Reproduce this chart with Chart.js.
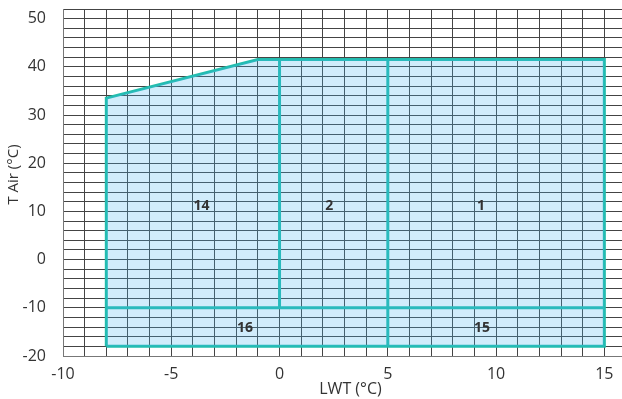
<!DOCTYPE html>
<html>
<head>
<meta charset="utf-8">
<script src="https://cdn.jsdelivr.net/npm/chart.js@4/dist/chart.umd.min.js"></script>
<style>
  html, body { margin: 0; padding: 0; background: #fff; overflow: hidden; }
  #wrap { width: 626px; height: 399px; }
</style>
</head>
<body>
<div id="wrap"><canvas id="chart" width="626" height="399"></canvas></div>
<script>
// operating envelope, LWT (x) against T Air (y)
const envelopeX = [-8, -8, -1, 15, 15, -8];
const envelopeY = [-18, 33.5, 41.5, 41.5, -18, -18];
const topX = [-8, -1, 15];
const topY = [33.5, 41.5, 41.5];
const bottomLimit = -18;

// dividing lines between zones
const dividers = [
  { x: [0, 0], y: [-10, 41.5] },
  { x: [5, 5], y: [-18, 41.5] },
  { x: [-8, 15], y: [-10, -10] },
];

// zone numbers
const zoneLabels = ['14', '2', '1', '16', '15'];
const zoneX = [-3.6, 2.3, 9.3, -1.6, 9.35];
const zoneY = [11.2, 11.2, 11.2, -14.2, -14.2];

const xTickLabels = [-10, -5, 0, 5, 10, 15];
const yTickLabels = [-20, -10, 0, 10, 20, 30, 40, 50];
const xTitle = 'LWT (°C)';
const yTitle = 'T Air (°C)';

const teal = '#22bdad';
const toPoints = (xs, ys) => xs.map((x, i) => ({ x, y: ys[i] }));

// zone numbers and axis titles (titles sit a bit off-centre in the original)
const textPlugin = {
  id: 'texts',
  afterDatasetsDraw(chart) {
    const { ctx, scales, chartArea } = chart;
    ctx.save();
    ctx.font = 'bold 14px "Open Sans"';
    ctx.fillStyle = '#333';
    ctx.textAlign = 'center';
    ctx.textBaseline = 'middle';
    zoneLabels.forEach((t, i) => {
      ctx.fillText(t, scales.x.getPixelForValue(zoneX[i]), scales.y.getPixelForValue(zoneY[i]));
    });

    ctx.font = '16px "Open Sans"';
    ctx.fillText(xTitle, (chartArea.left + chartArea.right) / 2 + 6, 389);
    ctx.font = '15px "Open Sans"';
    ctx.translate(14, (chartArea.top + chartArea.bottom) / 2 - 8);
    ctx.rotate(-Math.PI / 2);
    ctx.fillText(yTitle, 0, 0);
    ctx.restore();
  },
};

const lineStyle = {
  showLine: true,
  borderColor: teal,
  borderWidth: 3,
  pointRadius: 0,
  fill: false,
  tension: 0,
};

new Chart(document.getElementById('chart'), {
  type: 'scatter',
  data: {
    datasets: [
      {
        data: toPoints(topX, topY),
        showLine: true,
        borderWidth: 0,
        borderColor: 'rgba(0,0,0,0)',
        pointRadius: 0,
        backgroundColor: 'rgba(67,179,239,0.25)',
        fill: { target: { value: bottomLimit } },
      },
      { ...lineStyle, data: toPoints(envelopeX, envelopeY) },
      ...dividers.map(d => ({ ...lineStyle, data: toPoints(d.x, d.y) })),
    ],
  },
  options: {
    responsive: false,
    animation: false,
    layout: { padding: { top: 9, right: 0, left: 0, bottom: 0 } },
    plugins: { legend: { display: false }, tooltip: { enabled: false } },
    scales: {
      x: {
        type: 'linear',
        min: -10,
        max: 16,
        afterFit: s => { s.height = 43; s.paddingLeft = 0; s.paddingRight = 0; },
        ticks: {
          stepSize: 1,
          padding: 9,
          color: '#333',
          font: { family: 'Open Sans', size: 16 },
          maxRotation: 0,
          autoSkip: false,
          callback: v => (xTickLabels.includes(v) ? String(v) : ''),
        },
        grid: { color: '#444', lineWidth: 1, drawTicks: false },
        border: { color: '#777', width: 1 },
      },
      y: {
        type: 'linear',
        min: -20,
        max: 52,
        afterFit: s => { s.width = 63; s.paddingTop = 0; s.paddingBottom = 0; },
        ticks: {
          stepSize: 2,
          padding: 17,
          color: '#333',
          font: { family: 'Open Sans', size: 16 },
          autoSkip: false,
          callback: v => (yTickLabels.includes(v) ? String(v) : ''),
        },
        grid: { color: '#444', lineWidth: 1, drawTicks: false },
        border: { color: '#777', width: 1 },
      },
    },
  },
  plugins: [textPlugin],
});
</script>
</body>
</html>
